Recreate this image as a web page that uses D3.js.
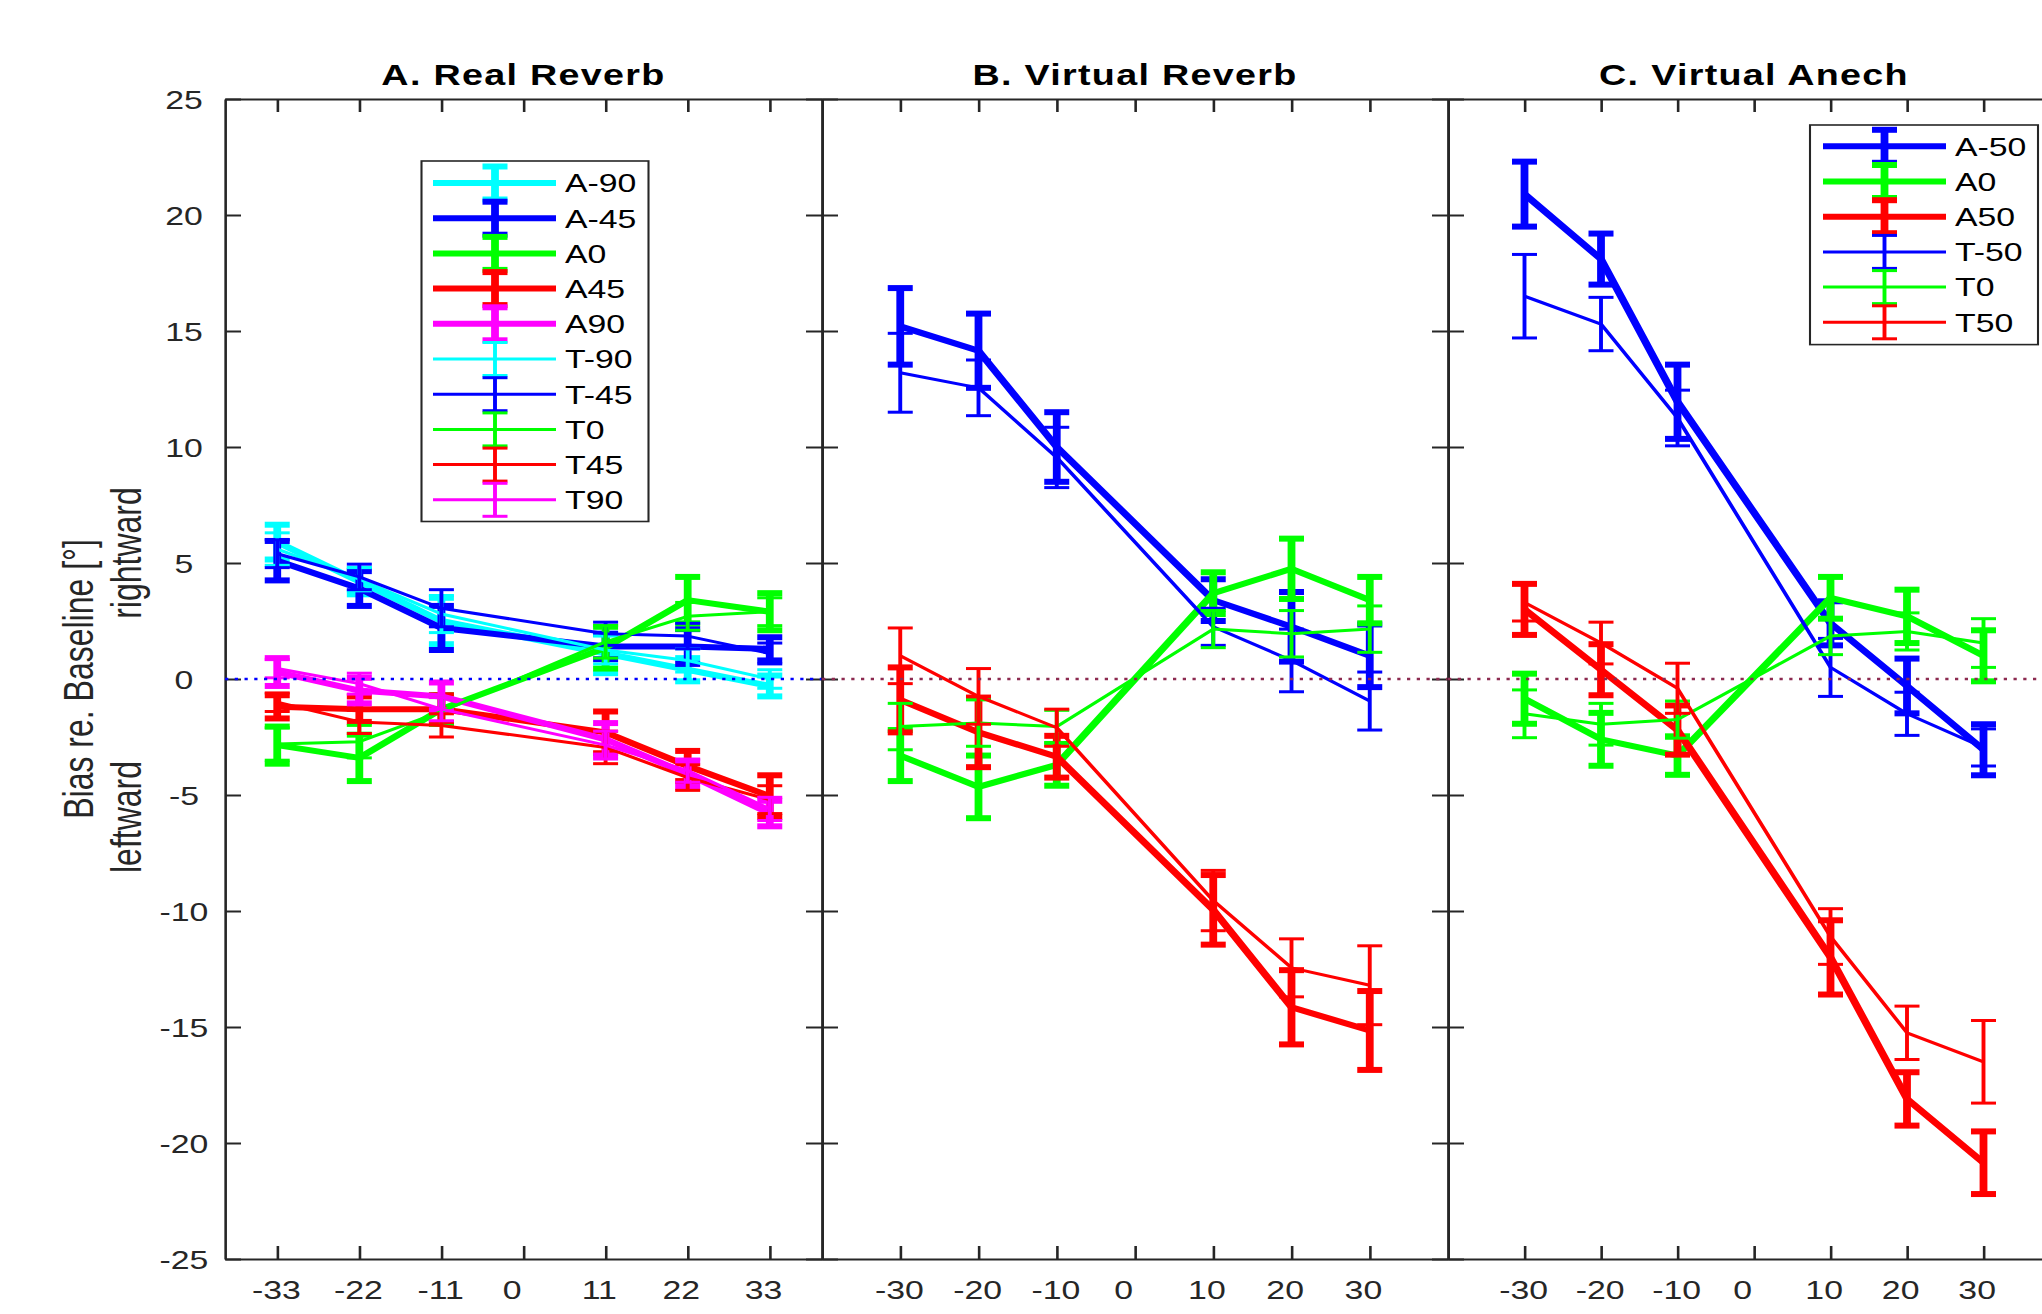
<!DOCTYPE html>
<html>
<head>
<meta charset="utf-8">
<script src="https://cdn.jsdelivr.net/npm/d3@7"></script>
<style>
  body { margin: 0; background: #fff; }
</style>
</head>
<body>
<div id="chart"></div>
<script>
//
// Bias re. baseline, three panels
//

// Panel titles
var titles = ["A. Real Reverb", "B. Virtual Reverb", "C. Virtual Anech"];

// Y axis ticks (shared)
var yTicks = [-25, -20, -15, -10, -5, 0, 5, 10, 15, 20, 25];

// Panel A: real reverb
var realX = [-33, -22, -11, 11, 22, 33];
var realTicks = [-33, -22, -11, 0, 11, 22, 33];
var realNames = ["A-90", "A-45", "A0", "A45", "A90", "T-90", "T-45", "T0", "T45", "T90"];
var realMean = [
  [5.9, 4.2, 2.5, 1.1, 0.4, -0.3],
  [5.1, 3.9, 2.2, 1.4, 1.4, 1.3],
  [-2.85, -3.4, -1.3, 1.35, 3.4, 2.9],
  [-1.2, -1.3, -1.3, -2.3, -3.75, -5.05],
  [0.3, -0.5, -0.75, -2.6, -4.1, -5.8],
  [5.6, 4.3, 2.8, 1.25, 0.8, 0.0],
  [5.4, 4.4, 3.05, 1.95, 1.85, 1.1],
  [-2.8, -2.7, -1.4, 1.6, 2.7, 2.9],
  [-1.0, -1.85, -2.0, -2.95, -4.25, -5.2],
  [0.45, -0.2, -1.3, -2.85, -3.95, -5.6]
];
var realErr = [
  [0.75, 0.55, 1.0, 0.85, 0.5, 0.45],
  [0.85, 0.75, 0.95, 0.55, 0.75, 0.5],
  [0.8, 1.0, 0.6, 0.9, 1.0, 0.8],
  [0.5, 0.55, 0.6, 0.9, 0.65, 0.9],
  [0.6, 0.55, 0.6, 0.7, 0.55, 0.55],
  [0.7, 0.5, 0.8, 0.6, 0.5, 0.4],
  [0.6, 0.55, 0.8, 0.5, 0.55, 0.45],
  [0.7, 0.7, 0.6, 0.7, 0.6, 0.6],
  [0.4, 0.5, 0.5, 0.7, 0.55, 0.6],
  [0.4, 0.45, 0.5, 0.6, 0.5, 0.5]
];

// Panel B: virtual reverb
var virtX = [-30, -20, -10, 10, 20, 30];
var virtTicks = [-30, -20, -10, 0, 10, 20, 30];
var revNames = ["A-45", "A0", "A45", "T-45", "T0", "T45"];
var revMean = [
  [15.2, 14.15, 10.0, 3.4, 2.25, 1.0],
  [-3.3, -4.65, -3.7, 3.7, 4.75, 3.4],
  [-0.9, -2.3, -3.35, -9.95, -14.15, -15.15],
  [13.2, 12.55, 9.55, 2.25, 0.8, -0.95],
  [-2.05, -1.9, -2.05, 2.15, 1.95, 2.15],
  [1.0, -0.75, -2.1, -9.55, -12.45, -13.2]
];
var revErr = [
  [1.65, 1.6, 1.5, 0.9, 1.5, 1.35],
  [1.1, 1.35, 0.9, 0.9, 1.3, 1.0],
  [1.4, 1.5, 0.9, 1.5, 1.6, 1.7],
  [1.7, 1.2, 1.3, 0.8, 1.35, 1.25],
  [1.0, 1.0, 0.7, 0.8, 1.0, 1.0],
  [1.2, 1.2, 0.8, 1.3, 1.25, 1.7]
];

// Panel C: virtual anechoic
var anechNames = ["A-50", "A0", "A50", "T-50", "T0", "T50"];
var anechMean = [
  [20.9, 18.1, 11.95, 2.4, -0.3, -3.05],
  [-0.85, -2.6, -3.3, 3.5, 2.7, 1.0],
  [3.0, 0.4, -2.2, -12.0, -18.1, -20.85],
  [16.5, 15.3, 11.25, 0.5, -1.5, -2.95],
  [-1.5, -1.95, -1.75, 1.85, 2.05, 1.55],
  [3.3, 1.55, -0.4, -11.1, -15.25, -16.5]
];
var anechErr = [
  [1.4, 1.1, 1.6, 0.95, 1.18, 1.1],
  [1.08, 1.14, 0.83, 0.9, 1.15, 1.1],
  [1.1, 1.1, 1.06, 1.6, 1.15, 1.35],
  [1.8, 1.15, 1.2, 1.25, 0.93, 0.8],
  [1.03, 0.9, 0.8, 0.8, 0.8, 1.05],
  [0.8, 0.9, 1.08, 1.2, 1.15, 1.78]
];

// Colour by target angle
function colorOf(name) {
  var a = name.slice(1);
  if (a === "-90") return "#00ffff";
  if (a === "-45" || a === "-50") return "#0000ff";
  if (a === "0") return "#00ff00";
  if (a === "45" || a === "50") return "#ff0000";
  return "#ff00ff";
}

// The figure is stretched horizontally, draw everything in a scaled group
var SX = 1.3;
var W = 2042, H = 1314;
var plotTop = 99, plotBottom = 1259;
var font = "'Liberation Sans', Arial, Helvetica, sans-serif";
var axisColor = "#262626";
var capHalf = 12.5 / SX;

var panels = [
  {left: 225, right: 822, xs: realX, ticks: realTicks, names: realNames, mean: realMean, err: realErr, zero: "#0000ff"},
  {left: 822, right: 1448, xs: virtX, ticks: virtTicks, names: revNames, mean: revMean, err: revErr, zero: "#8c2a50"},
  {left: 1448, right: 2060, xs: virtX, ticks: virtTicks, names: anechNames, mean: anechMean, err: anechErr, zero: "#8c2a50"}
];

var svg = d3.select("#chart")
    .append("svg")
    .attr("width", W)
    .attr("height", H);
svg.append("rect").attr("width", W).attr("height", H).attr("fill", "#fff");

var root = svg.append("g").attr("transform", "scale(" + SX + ",1)");

var y = d3.scaleLinear()
    .domain([-25, 25])
    .range([plotBottom, plotTop]);

function drawErrorbar(g, cx, cy0, cy1, col, sw) {
  g.append("line").attr("x1", cx).attr("x2", cx).attr("y1", cy0).attr("y2", cy1)
    .attr("stroke", col).attr("stroke-width", sw);
  [cy0, cy1].forEach(function(cy) {
    g.append("line").attr("x1", cx - capHalf).attr("x2", cx + capHalf).attr("y1", cy).attr("y2", cy)
      .attr("stroke", col).attr("stroke-width", sw);
  });
}

panels.forEach(function(p, i) {
  var x = d3.scaleLinear()
      .domain([-40, 40])
      .range([p.left / SX, p.right / SX]);

  var g = root.append("g");

  // Axes: box with inward ticks on every side
  var bottomAxis = g.append("g")
      .attr("transform", "translate(0," + plotBottom + ")")
      .call(d3.axisBottom(x).tickValues(p.ticks).tickSizeInner(-13).tickSizeOuter(0)
            .tickPadding(21.5).tickFormat(function(d) { return String(d); }));
  bottomAxis.selectAll("text")
      .attr("dx", function(d) { return (d < 0 ? -1.5 : d === 0 ? -12 : -7) / SX; });

  g.append("g")
      .attr("transform", "translate(0," + plotTop + ")")
      .call(d3.axisTop(x).tickValues(p.ticks).tickSizeInner(-13).tickSizeOuter(0).tickFormat(""));

  var leftAxis = g.append("g")
      .attr("transform", "translate(" + (p.left / SX) + ",0)")
      .call(d3.axisLeft(y).tickValues(yTicks).tickSizeInner(-16 / SX).tickSizeOuter(0)
            .tickFormat(i === 0 ? function(d) { return String(d); } : ""));
  leftAxis.selectAll("text")
      .attr("x", (184 - p.left) / SX)
      .attr("dy", "0.36em")
      .attr("text-anchor", "middle");

  g.append("g")
      .attr("transform", "translate(" + (p.right / SX) + ",0)")
      .call(d3.axisRight(y).tickValues(yTicks).tickSizeInner(-16 / SX).tickSizeOuter(0).tickFormat(""));

  g.selectAll(".tick line, .domain")
      .attr("stroke", axisColor)
      .attr("stroke-width", 2);
  g.selectAll(".tick text")
      .attr("fill", axisColor)
      .style("font-family", font)
      .style("font-size", "26px");

  // Series: thick = A, thin = T
  p.names.forEach(function(name, s) {
    var col = colorOf(name);
    var sw = name[0] === "A" ? 6 : 3;
    var pts = p.xs.map(function(d, j) { return {x: d, m: p.mean[s][j], e: p.err[s][j]}; });

    g.append("path")
        .datum(pts)
        .attr("d", d3.line().x(function(d) { return x(d.x); }).y(function(d) { return y(d.m); }))
        .attr("fill", "none")
        .attr("stroke", col)
        .attr("stroke-width", sw)
        .attr("stroke-linejoin", "round");

    var eb = g.append("g");
    pts.forEach(function(d) {
      drawErrorbar(eb, x(d.x), y(d.m - d.e), y(d.m + d.e), col, sw);
    });
  });

  // Dotted zero line
  g.append("line")
      .attr("x1", p.left / SX).attr("x2", p.right / SX)
      .attr("y1", y(0)).attr("y2", y(0))
      .attr("stroke", p.zero)
      .attr("stroke-width", 2.3)
      .attr("stroke-dasharray", "2.5,5");

  // Title
  g.append("text")
      .attr("x", (p.left + p.right) / 2 / SX)
      .attr("y", 85)
      .attr("text-anchor", "middle")
      .style("font-family", font)
      .style("font-weight", "bold")
      .style("font-size", "29px")
      .style("letter-spacing", "1px")
      .text(titles[i]);
});

// Y label
[["Bias re. Baseline [°]", 93, 679], ["rightward", 141, 553], ["leftward", 141, 817]].forEach(function(t) {
  root.append("text")
      .attr("transform", "translate(" + (t[1] / SX) + "," + t[2] + ") rotate(-90)")
      .attr("text-anchor", "middle")
      .attr("fill", axisColor)
      .style("font-family", font)
      .style("font-size", "32px")
      .text(t[0]);
});

// Legends
function drawLegend(names, box, lineX0, lineX1, capX, textX, row0) {
  var lg = root.append("g");
  lg.append("rect")
      .attr("x", box[0] / SX).attr("y", box[1])
      .attr("width", (box[2] - box[0]) / SX).attr("height", box[3] - box[1])
      .attr("fill", "#fff")
      .attr("stroke", axisColor)
      .attr("stroke-width", 1.6);
  names.forEach(function(name, k) {
    var cy = row0 + k * 35.2;
    var col = colorOf(name);
    var sw = name[0] === "A" ? 6 : 3;
    lg.append("line")
        .attr("x1", lineX0 / SX).attr("x2", lineX1 / SX)
        .attr("y1", cy).attr("y2", cy)
        .attr("stroke", col).attr("stroke-width", sw);
    drawErrorbar(lg, capX / SX, cy + 16.5, cy - 16.5, col, sw);
    lg.append("text")
        .attr("x", textX / SX)
        .attr("y", cy)
        .attr("dy", "0.36em")
        .attr("fill", "#000")
        .style("font-family", font)
        .style("font-size", "26px")
        .text(name);
  });
}

drawLegend(realNames, [421.5, 161, 648.5, 521.5], 433, 556, 495, 565, 183);
drawLegend(anechNames, [1810, 125, 2038, 344.6], 1823, 1946, 1884.5, 1955, 146.3);
</script>
</body>
</html>
